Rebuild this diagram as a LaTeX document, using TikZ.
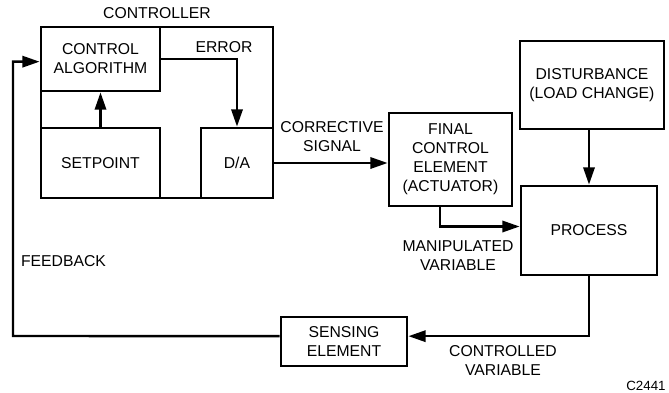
\documentclass[tikz,border=0pt]{standalone}
\usepackage{fontspec}
\setmainfont{Liberation Sans}
\usetikzlibrary{calc, positioning}
\usetikzlibrary{arrows.meta}
\begin{document}
\begin{tikzpicture}[x=0.75pt,y=-0.75pt,
  box/.style={draw,line width=2.1pt,align=center,inner sep=0pt},
  lbl/.style={align=center,inner sep=0pt},
  flow/.style={line width=1.8pt,-{Triangle[length=13pt,width=8.5pt]}},
  font=\fontsize{11.8}{14.25}\selectfont]
\useasboundingbox (0,0) rectangle (669,393);

\node[box,minimum width=174pt,minimum height=128.25pt] (ctrl) at (157,112.5) {};
\node[box,minimum width=89.25pt,minimum height=48pt] (alg) at (100.5,59) {CONTROL\\ALGORITHM};
\node[box,minimum width=89.25pt,minimum height=52.5pt] (setp) at (100.5,163) {SETPOINT};
\node[box,minimum width=54pt,minimum height=52.5pt] (da) at (237,163) {D/A};
\node[box,minimum width=92.25pt,minimum height=69.75pt] (fce) at (450.5,159.5) {FINAL\\CONTROL\\ELEMENT\\(ACTUATOR)};
\node[box,minimum width=108pt,minimum height=66pt] (dist) at (592,85) {DISTURBANCE\\(LOAD CHANGE)};
\node[box,minimum width=102pt,minimum height=66.75pt] (proc) at (589,230.5) {PROCESS};
\node[box,minimum width=94.5pt,minimum height=36.75pt] (sens) at (344,341.5) {SENSING\\ELEMENT};
\coordinate (fb) at (13,336);

\draw[flow] (setp.north) -- (alg.south);
\draw[flow] (alg.east) -| (da.north);
\draw[flow] (da.east) -- (da.east -| fce.west);
\draw[flow] ([xshift=-8pt]fce.south) |- ([yshift=3pt]proc.west);
\draw[flow] (dist.south -| proc.north) -- (proc.north);
\draw[flow] (proc.south) |- ([yshift=4pt]sens.east);
\draw[flow] ([yshift=4pt]sens.west) -- (fb) |- ([yshift=-2pt]alg.west);

\node[lbl,above=5pt] (ctrlname) at (ctrl.north) {CONTROLLER};
\node[lbl] (err) at (224,47) {ERROR};
\node[lbl] (corr) at (332,137) {CORRECTIVE\\SIGNAL};
\node[lbl] (manip) at (458,256) {MANIPULATED\\VARIABLE};
\node[lbl] (fbname) at (63.5,261) {FEEDBACK};
\node[lbl] (contr) at (503,361) {CONTROLLED\\VARIABLE};
\node[lbl,font=\fontsize{10}{12}\selectfont] (fig) at (646,386) {C2441};
\end{tikzpicture}
\end{document}
